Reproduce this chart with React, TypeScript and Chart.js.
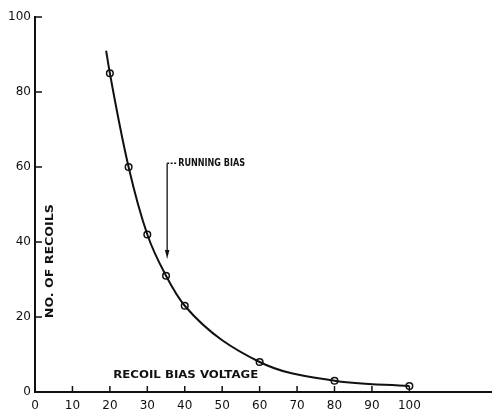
import React, { useEffect, useRef } from "react";
import { Chart, registerables } from "chart.js";

Chart.register(...registerables);

// Curve (drawn line) including its upper extension beyond the first marker
const curveX = [19, 20, 25, 30, 35, 40, 60, 80, 100];
const curveY = [91, 85, 60, 42, 31, 23, 8, 3, 1.6];
// Measured points (open circles)
const pointX = [20, 25, 30, 35, 40, 60, 80, 100];
const pointY = [85, 60, 42, 31, 23, 8, 3, 1.6];
// Axis ticks
const xTicks = [0, 10, 20, 30, 40, 50, 60, 70, 80, 90, 100];
const yTicks = [0, 20, 40, 60, 80, 100];
// Annotation: running bias arrow
const arrowX = 35.3;
const arrowTop = 61;
const arrowBottom = 35.5;
const arrowLabel = "RUNNING BIAS";
const xTitle = "RECOIL BIAS VOLTAGE";
const yTitle = "NO. OF RECOILS";

const FONT = "'DejaVu Sans', sans-serif";

// draw text with a given font size, squeezed horizontally to a given width
function drawFitted(
  ctx: CanvasRenderingContext2D,
  text: string,
  x: number,
  y: number,
  width: number,
  size: number
) {
  ctx.save();
  ctx.font = `bold ${size}px ${FONT}`;
  const w = ctx.measureText(text).width;
  ctx.translate(x, y);
  ctx.scale(width / w, 1);
  ctx.textAlign = "left";
  ctx.textBaseline = "middle";
  ctx.fillText(text, 0, 0);
  ctx.restore();
}

const annotations = {
  id: "annotations",
  afterDraw(chart: any) {
    const ctx = chart.ctx as CanvasRenderingContext2D;
    const xs = chart.scales.x;
    const ys = chart.scales.y;
    const x0 = xs.getPixelForValue(0);
    const y0 = ys.getPixelForValue(0);
    ctx.save();
    ctx.strokeStyle = "#111";
    ctx.fillStyle = "#111";
    ctx.lineWidth = 1.5;
    // x axis line extends to the right edge of the canvas
    ctx.lineWidth = 2;
    ctx.beginPath();
    ctx.moveTo(x0, y0);
    ctx.lineTo(chart.width, y0);
    ctx.stroke();
    ctx.lineWidth = 1.5;
    // y tick marks (pointing inward)
    yTicks.forEach((v) => {
      if (v === 0) return;
      const y = ys.getPixelForValue(v);
      ctx.beginPath();
      ctx.moveTo(x0, y);
      ctx.lineTo(x0 + 7, y);
      ctx.stroke();
    });
    // x tick marks (pointing inward)
    xTicks.forEach((v) => {
      if (v === 0) return;
      const x = xs.getPixelForValue(v);
      ctx.beginPath();
      ctx.moveTo(x, y0);
      ctx.lineTo(x, y0 - 6);
      ctx.stroke();
    });
    // arrow
    const ax = xs.getPixelForValue(arrowX);
    const at = ys.getPixelForValue(arrowTop);
    const ab = ys.getPixelForValue(arrowBottom);
    ctx.lineWidth = 1.3;
    ctx.beginPath();
    ctx.moveTo(ax, at);
    ctx.lineTo(ax, ab - 6);
    ctx.stroke();
    ctx.beginPath();
    ctx.moveTo(ax - 2.2, ab - 9);
    ctx.lineTo(ax + 2.2, ab - 9);
    ctx.lineTo(ax, ab);
    ctx.closePath();
    ctx.fill();
    ctx.beginPath();
    ctx.setLineDash([2, 1.5]);
    ctx.moveTo(ax, at);
    ctx.lineTo(ax + 9, at);
    ctx.stroke();
    ctx.setLineDash([]);
    // label
    drawFitted(ctx, arrowLabel, ax + 11, at, 67, 10.5);
    // x title inside plot
    drawFitted(ctx, xTitle, xs.getPixelForValue(20.9), ys.getPixelForValue(4.5), 145, 10.5);
    // y title rotated
    ctx.save();
    ctx.translate(x0 + 15, ys.getPixelForValue(19.7));
    ctx.rotate(-Math.PI / 2);
    drawFitted(ctx, yTitle, 0, 0, 114, 10);
    ctx.restore();
    ctx.restore();
  },
};

export default function App() {
  const ref = useRef<HTMLCanvasElement>(null);
  useEffect(() => {
    if (!ref.current) return;
    const chart = new Chart(ref.current, {
      type: "scatter",
      data: {
        datasets: [
          {
            data: curveX.map((x, i) => ({ x, y: curveY[i] })),
            showLine: true,
            borderColor: "#111",
            borderWidth: 2,
            pointRadius: 0,
            cubicInterpolationMode: "monotone",
          } as any,
          {
            data: pointX.map((x, i) => ({ x, y: pointY[i] })),
            showLine: false,
            pointRadius: 3.3,
            pointBackgroundColor: "#fff",
            pointBorderColor: "#111",
            pointBorderWidth: 1.5,
          },
        ],
      },
      options: {
        responsive: false,
        animation: false,
        layout: { padding: { top: 17, left: 0, right: 0, bottom: 0 } },
        plugins: { legend: { display: false }, tooltip: { enabled: false } },
        scales: {
          x: {
            type: "linear",
            min: 0,
            max: 120.6,
            grid: { display: false, drawTicks: false },
            border: { display: true, color: "#111", width: 2 },
            ticks: { color: "#111", padding: 7, font: { family: FONT, size: 12 } },
            afterBuildTicks: (s: any) => {
              s.ticks = xTicks.map((v) => ({ value: v }));
            },
            afterFit: (s: any) => {
              s.height = 21;
            },
          },
          y: {
            type: "linear",
            min: 0,
            max: 100,
            grid: { display: false, drawTicks: false },
            border: { display: true, color: "#111", width: 2 },
            ticks: { color: "#111", padding: 4, font: { family: FONT, size: 12 } },
            afterBuildTicks: (s: any) => {
              s.ticks = yTicks.map((v) => ({ value: v }));
            },
            afterFit: (s: any) => {
              s.width = 35;
            },
          },
        },
      },
      plugins: [annotations],
    });
    return () => chart.destroy();
  }, []);
  return (
    <div style={{ position: "fixed", left: 0, top: 0, width: 492, height: 413, background: "#fff" }}>
      <canvas ref={ref} width={492} height={413} />
    </div>
  );
}
